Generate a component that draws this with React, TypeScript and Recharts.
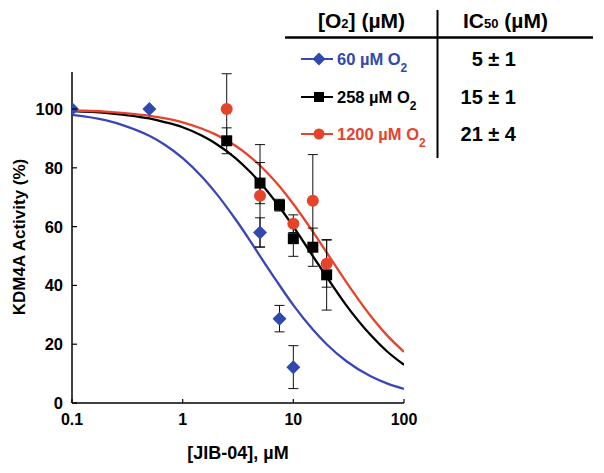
import {
  ComposedChart,
  ErrorBar,
  Line,
  Scatter,
  XAxis,
  YAxis,
} from "recharts";

// Fitted dose-response curves at these concentrations (µM).
const curveX = [0.1, 0.2, 0.3, 0.5, 0.7, 1, 1.5, 2, 3, 4, 5, 7, 10, 15, 20, 30, 50, 70, 100];
const fit60 = [98, 96.2, 94.3, 90.9, 87.7, 83.3, 76.9, 71.4, 62.5, 55.6, 50, 41.7, 33.3, 25, 20, 14.3, 9.1, 6.7, 4.8];
const fit258 = [99.3, 98.7, 98, 96.8, 95.5, 93.8, 90.9, 88.2, 83.3, 78.9, 75, 68.2, 60, 50, 42.9, 33.3, 23.1, 17.6, 13];
const fit1200 = [99.5, 99.1, 98.6, 97.7, 96.8, 95.5, 93.3, 91.3, 87.5, 84, 80.8, 75, 67.7, 58.3, 51.2, 41.2, 29.6, 23.1, 17.4];

// Measured activities (%) with error bars.
const x60 = [0.1, 0.5, 5, 7.5, 10];
const y60 = [100, 100, 58, 28.7, 12.2];
const err60 = [null, null, 5, 4.5, 7.3];

const x258 = [2.5, 5, 7.5, 10, 15, 20];
const y258 = [89.2, 74.8, 67.3, 55.9, 53, 43.6];
const err258 = [4.4, 7, 2, 6, 6.5, 12];

const x1200 = [2.5, 5, 10, 15, 20];
const y1200 = [100, 70.5, 61, 68.8, 47.4];
const err1200 = [12, 17.4, 3, 15.7, 8];

const xTicks = [0.1, 1, 10, 100];
const yTicks = [0, 20, 40, 60, 80, 100];

const seriesLabels = ["60 µM O", "258 µM O", "1200 µM O"];
const ic50Labels = ["5 ± 1", "15 ± 1", "21 ± 4"];

const BLUE = "#3149ad";
const BLUE_LINE = "#3a46b6";
const RED = "#e6432b";
const BLACK = "#000";
const FONT = "'Liberation Sans', Arial, Helvetica, sans-serif";

const toCurve = (ys: number[]) => curveX.map((x, i) => ({ x, y: ys[i] }));
const toPoints = (xs: number[], ys: number[], errs: (number | null)[]) =>
  xs.map((x, i) => ({ x, y: ys[i], err: errs[i] }));

const curve60 = toCurve(fit60);
const curve258 = toCurve(fit258);
const curve1200 = toCurve(fit1200);
const pts60 = toPoints(x60, y60, err60);
const pts258 = toPoints(x258, y258, err258);
const pts1200 = toPoints(x1200, y1200, err1200);

function Diamond({ cx, cy, r = 7, fill = BLUE }: any) {
  if (cx == null || cy == null) return null;
  return (
    <polygon
      points={`${cx},${cy - r} ${cx + r},${cy} ${cx},${cy + r} ${cx - r},${cy}`}
      fill={fill}
    />
  );
}

function Square({ cx, cy, s = 5.5 }: any) {
  if (cx == null || cy == null) return null;
  return <rect x={cx - s} y={cy - s} width={s * 2} height={s * 2} fill={BLACK} />;
}

function Dot({ cx, cy, r = 6 }: any) {
  if (cx == null || cy == null) return null;
  return <circle cx={cx} cy={cy} r={r} fill={RED} />;
}

function XTick({ x, y, payload }: any) {
  return (
    <g>
      <line x1={x} x2={x} y1={y - 6} y2={y - 10} stroke={BLACK} strokeWidth={1.2} />
      <text x={x} y={y} dy={16} textAnchor="middle" fontFamily={FONT} fontWeight="bold" fontSize={16} fill={BLACK}>
        {String(payload.value)}
      </text>
    </g>
  );
}

function YTick({ x, y, payload }: any) {
  return (
    <g>
      <line x1={x + 9} x2={x + 14} y1={y} y2={y} stroke={BLACK} strokeWidth={1.2} />
      <text x={x} y={y} dy={6} textAnchor="end" fontFamily={FONT} fontWeight="bold" fontSize={16.5} fill={BLACK}>
        {String(payload.value)}
      </text>
    </g>
  );
}

function LegendMarker({ i, x, y }: { i: number; x: number; y: number }) {
  if (i === 0) return <Diamond cx={x} cy={y} r={6.5} />;
  if (i === 1) return <Square cx={x} cy={y} s={5} />;
  return <Dot cx={x} cy={y} r={5.5} />;
}

function Overlay() {
  const colors = [BLUE, BLACK, RED];
  const lineColors = [BLUE_LINE, BLACK, RED];
  const rowY = [59, 97, 134];
  return (
    <svg
      width={604}
      height={473}
      style={{ position: "absolute", left: 0, top: 0, pointerEvents: "none" }}
      fontFamily={FONT}
      fontWeight="bold"
    >
      {/* table header */}
      <text x={318} y={28} fontSize={21} fill={BLACK}>
        [O<tspan fontSize={13}>2</tspan>
        <tspan>] (µM)</tspan>
      </text>
      <text x={463} y={28} fontSize={21} fill={BLACK}>
        IC<tspan fontSize={13}>50</tspan>
        <tspan> (µM)</tspan>
      </text>
      <line x1={285} x2={593} y1={37.5} y2={37.5} stroke={BLACK} strokeWidth={2.5} />
      <line x1={437.5} x2={437.5} y1={10} y2={158} stroke={BLACK} strokeWidth={2} />

      {seriesLabels.map((label, i) => (
        <g key={label}>
          <line x1={301} x2={333} y1={rowY[i]} y2={rowY[i]} stroke={lineColors[i]} strokeWidth={2} />
          <LegendMarker i={i} x={319} y={rowY[i]} />
          <text x={337} y={rowY[i] + 6} fontSize={16.5} fill={colors[i]}>
            {label}
            <tspan fontSize={12} dy={7}>2</tspan>
          </text>
          <text x={516} y={rowY[i] + 7} fontSize={20} fill={BLACK} textAnchor="end">
            {ic50Labels[i]}
          </text>
        </g>
      ))}

      {/* axis titles */}
      <text
        x={25}
        y={237}
        fontSize={17}
        fill={BLACK}
        textAnchor="middle"
        transform="rotate(-90, 25, 237)"
      >
        KDM4A Activity (%)
      </text>
      <text x={238} y={459} fontSize={18} fill={BLACK} textAnchor="middle">
        [JIB-04], µM
      </text>
    </svg>
  );
}

export default function App() {
  return (
    <div style={{ position: "absolute", left: 0, top: 0, width: 604, height: 473, background: "#fff" }}>
      <ComposedChart width={604} height={473} margin={{ top: 72, right: 200, bottom: 40, left: 32 }}>
        <XAxis
          dataKey="x"
          type="number"
          scale="log"
          domain={[0.1, 100]}
          allowDataOverflow
          ticks={xTicks}
          height={30}
          tickSize={0}
          tickMargin={6}
          tick={<XTick />}
          axisLine={{ stroke: BLACK, strokeWidth: 1.5 }}
          tickLine={false}
          interval={0}
        />
        <YAxis
          type="number"
          domain={[0, 112.6]}
          allowDataOverflow
          ticks={yTicks}
          width={40}
          tickSize={0}
          tickMargin={9}
          tick={<YTick />}
          axisLine={{ stroke: BLACK, strokeWidth: 1.5 }}
          tickLine={false}
          interval={0}
        />
        <Line data={curve60} dataKey="y" type="monotone" stroke={BLUE_LINE} strokeWidth={2.3} dot={false} isAnimationActive={false} />
        <Line data={curve258} dataKey="y" type="monotone" stroke={BLACK} strokeWidth={2.3} dot={false} isAnimationActive={false} />
        <Line data={curve1200} dataKey="y" type="monotone" stroke={RED} strokeWidth={2.3} dot={false} isAnimationActive={false} />
        <Scatter data={pts258} dataKey="y" shape={<Square />} isAnimationActive={false}>
          <ErrorBar dataKey="err" direction="y" width={5} stroke="#111" strokeWidth={1} isAnimationActive={false} />
        </Scatter>
        <Scatter data={pts1200} dataKey="y" shape={<Dot />} isAnimationActive={false}>
          <ErrorBar dataKey="err" direction="y" width={5} stroke="#111" strokeWidth={1} isAnimationActive={false} />
        </Scatter>
        <Scatter data={pts60} dataKey="y" shape={<Diamond />} isAnimationActive={false}>
          <ErrorBar dataKey="err" direction="y" width={5} stroke="#111" strokeWidth={1} isAnimationActive={false} />
        </Scatter>
      </ComposedChart>
      <Overlay />
    </div>
  );
}
